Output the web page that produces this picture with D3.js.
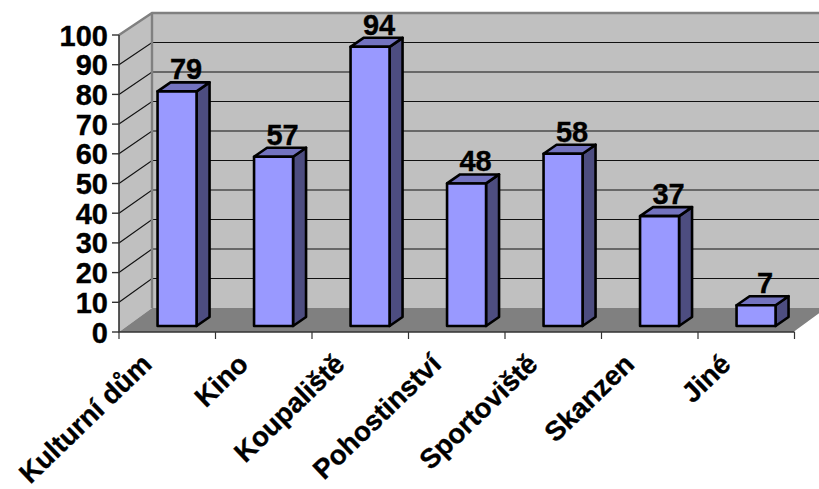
<!DOCTYPE html>
<html><head><meta charset="utf-8">
<script src="https://cdn.jsdelivr.net/npm/d3@7"></script>
<style>html,body{margin:0;padding:0;background:#fff}svg{display:block}text{font-family:"Liberation Sans",Arial,sans-serif;font-weight:bold;fill:#000;stroke:#000;stroke-width:.35px}</style>
</head><body><svg id="c" width="819" height="489"></svg>
<script>
const categories=["Kulturní dům","Kino","Koupaliště","Pohostinství","Sportoviště","Skanzen","Jiné"];
const values=[79,57,94,48,58,37,7];
const yTicks=[0,10,20,30,40,50,60,70,80,90,100];

const svg=d3.select("#c");
const W=819,H=489;
const x=d3.scaleBand().domain(categories).range([119,794.5]);
const y=d3.scaleLinear().domain([0,100]).range([332,35]);
const backDX=33, backY=d3.scaleLinear().domain([0,100]).range([308,13]);
const barW=39, barOff=(x.bandwidth()-barW)/2+9.8, barDY=-6, sideDX=13, sideDY=-9;
const x0=x.range()[0], x1=x.range()[1];
const g=svg.append("g");
const poly=(pts,fill,stroke,sw)=>g.append("polygon").attr("points",pts.map(p=>p.join(",")).join(" ")).attr("fill",fill).attr("stroke",stroke||"none").attr("stroke-width",sw||0).attr("stroke-linejoin","round");

// walls
poly([[x0+backDX,backY(100)],[x1+backDX,backY(100)],[x1+backDX,backY(0)],[x0+backDX,backY(0)]],"#c0c0c0");
poly([[x0,y(100)],[x0+backDX,backY(100)],[x0+backDX,backY(0)],[x0,y(0)]],"#c0c0c0");
poly([[x0,y(0)],[x0+backDX,backY(0)],[x1+backDX,backY(0)],[x1,y(0)]],"#808080");

// gridlines
yTicks.filter(t=>t>0&&t<100).forEach(t=>{
  g.append("path").attr("fill","none").attr("stroke","#111").attr("stroke-width",1.2)
   .attr("d",`M${x0},${y(t)}L${x0+backDX},${backY(t)}L${x1+backDX},${backY(t)}`);
});
// wall outlines
g.append("path").attr("fill","none").attr("stroke","#808080").attr("stroke-width",2.4)
 .attr("d",`M${x0},${y(100)}L${x0+backDX},${backY(100)}L${x1+backDX},${backY(100)}M${x0+backDX},${backY(100)}L${x0+backDX},${backY(0)}`);
g.append("path").attr("fill","none").attr("stroke","#fff").attr("stroke-width",1.5)
 .attr("d",`M${x1},${y(0)}L${x1+backDX},${backY(0)}`);

// axes
g.append("path").attr("fill","none").attr("stroke","#333").attr("stroke-width",1.6)
 .attr("d",`M${x0},${y(100)}L${x0},${y(0)}L${x1},${y(0)}`);
yTicks.forEach(t=>{
  g.append("line").attr("x1",x0-7).attr("x2",x0).attr("y1",y(t)).attr("y2",y(t)).attr("stroke","#333").attr("stroke-width",1.4);
  g.append("text").attr("x",x0-11).attr("y",y(t)+10.5).attr("text-anchor","end").attr("font-size",29).text(t);
});
[...categories.map(c=>x(c)),x1].forEach(px=>{
  g.append("line").attr("x1",px).attr("x2",px).attr("y1",y(0)).attr("y2",y(0)+7).attr("stroke","#333").attr("stroke-width",1.2);
});

// bars
categories.forEach((c,i)=>{
  const v=values[i], l=x(c)+barOff, r=l+barW, b=y(0)+barDY, t=y(v)+barDY;
  const sw=2.6;
  poly([[r,t],[r+sideDX,t+sideDY],[r+sideDX,b+sideDY],[r,b]],"#4d4d80","#000",sw);
  poly([[l,t],[l+sideDX,t+sideDY],[r+sideDX,t+sideDY],[r,t]],"#7373bf","#000",sw);
  poly([[l,t],[r,t],[r,b],[l,b]],"#9999ff","#000",sw);
  g.append("text").attr("x",l+barW/2+9).attr("y",t-12).attr("text-anchor","middle").attr("font-size",29).text(v);
});

// category labels
categories.forEach(c=>{
  const px=x(c)+x.bandwidth()/2;
  g.append("text").attr("text-anchor","end").attr("font-size",27.5)
   .attr("transform",`translate(${px-14},${y(0)+34}) rotate(-44)`).text(c);
});
</script></body></html>
